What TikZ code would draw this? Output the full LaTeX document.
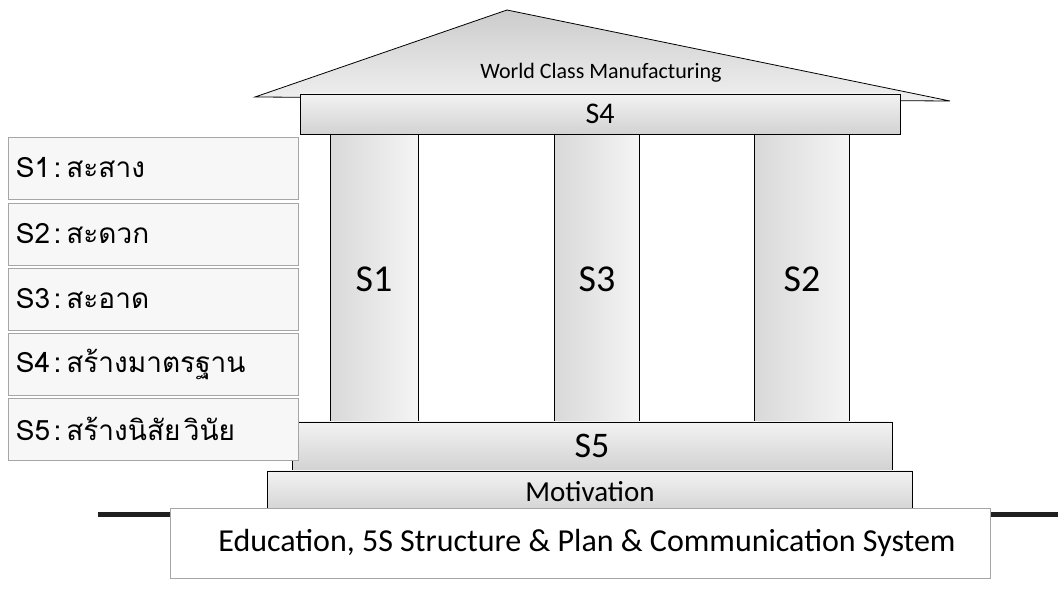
\documentclass[tikz,border=0pt]{standalone}
\usepackage{fontspec}
\setmainfont{Carlito}
\newfontfamily\thaifont[Script=Thai]{Loma}
\tikzset{
	slab/.style={draw, thick, top color=gray!10, bottom color=gray!35, inner sep=0pt},
	pillar/.style={draw, thick, left color=gray!30, right color=gray!8, inner sep=0pt},
	sbox/.style={draw=gray!70, thick, fill=gray!6, minimum width=290, minimum height=62, inner sep=0pt, text width=274, align=left}
}
\begin{document}
\begin{tikzpicture}[x=1pt, y=-1pt]
		\useasboundingbox (0, 0) rectangle (1058, 593);

		\node[pillar, minimum width=88, minimum height=292] (c1) at (374, 279) {\fontsize{38}{42}\selectfont S1};
		\node[pillar, minimum width=85, minimum height=292] (c3) at (597, 279) {\fontsize{38}{42}\selectfont S3};
		\node[pillar, minimum width=95, minimum height=292] (c2) at (802, 279) {\fontsize{38}{42}\selectfont S2};

		\coordinate (roofL) at (255, 97);
		\coordinate (roofT) at (507, 10);
		\coordinate (roofR) at (950, 101);
		\path[draw, thick, top color=gray!40, bottom color=gray!12] (roofL) -- (roofT) -- (roofR) -- cycle;
		\node (wcm) at (601, 73) {\fontsize{22}{25}\selectfont World Class Manufacturing};

		\node[slab, minimum width=600, minimum height=40] (beam) at (600, 114) {\fontsize{30}{33}\selectfont S4};
		\node[slab, minimum width=600, minimum height=48] (s5) at (592, 446) {\fontsize{36}{38}\selectfont S5};
		\node[slab, minimum width=645, minimum height=42] (motiv) at (590, 492) {\fontsize{29}{32}\selectfont Motivation};

		\coordinate (gL) at (98, 514);
		\coordinate (gR) at (1058, 514);
		\path (gL) edge[line width=5pt, gray!25!black] (gR);

		\node[draw=gray!70, thick, fill=white, minimum width=820, minimum height=70] (base) at (580, 543) {\fontsize{32}{36}\selectfont\hspace*{14pt}Education, 5S Structure \& Plan \& Communication System};

		\node[sbox] (l1) at (153, 168) {\thaifont\fontsize{28}{31}\selectfont S1 : สะสาง};
		\node[sbox] (l2) at (153, 234) {\thaifont\fontsize{28}{31}\selectfont S2 : สะดวก};
		\node[sbox] (l3) at (153, 299) {\thaifont\fontsize{28}{31}\selectfont S3 : สะอาด};
		\node[sbox] (l4) at (153, 364) {\thaifont\fontsize{28}{31}\selectfont S4 : สร้างมาตรฐาน};
		\node[sbox] (l5) at (153, 429) {\thaifont\fontsize{28}{31}\selectfont S5 : สร้างนิสัย วินัย};
	\end{tikzpicture}
\end{document}
